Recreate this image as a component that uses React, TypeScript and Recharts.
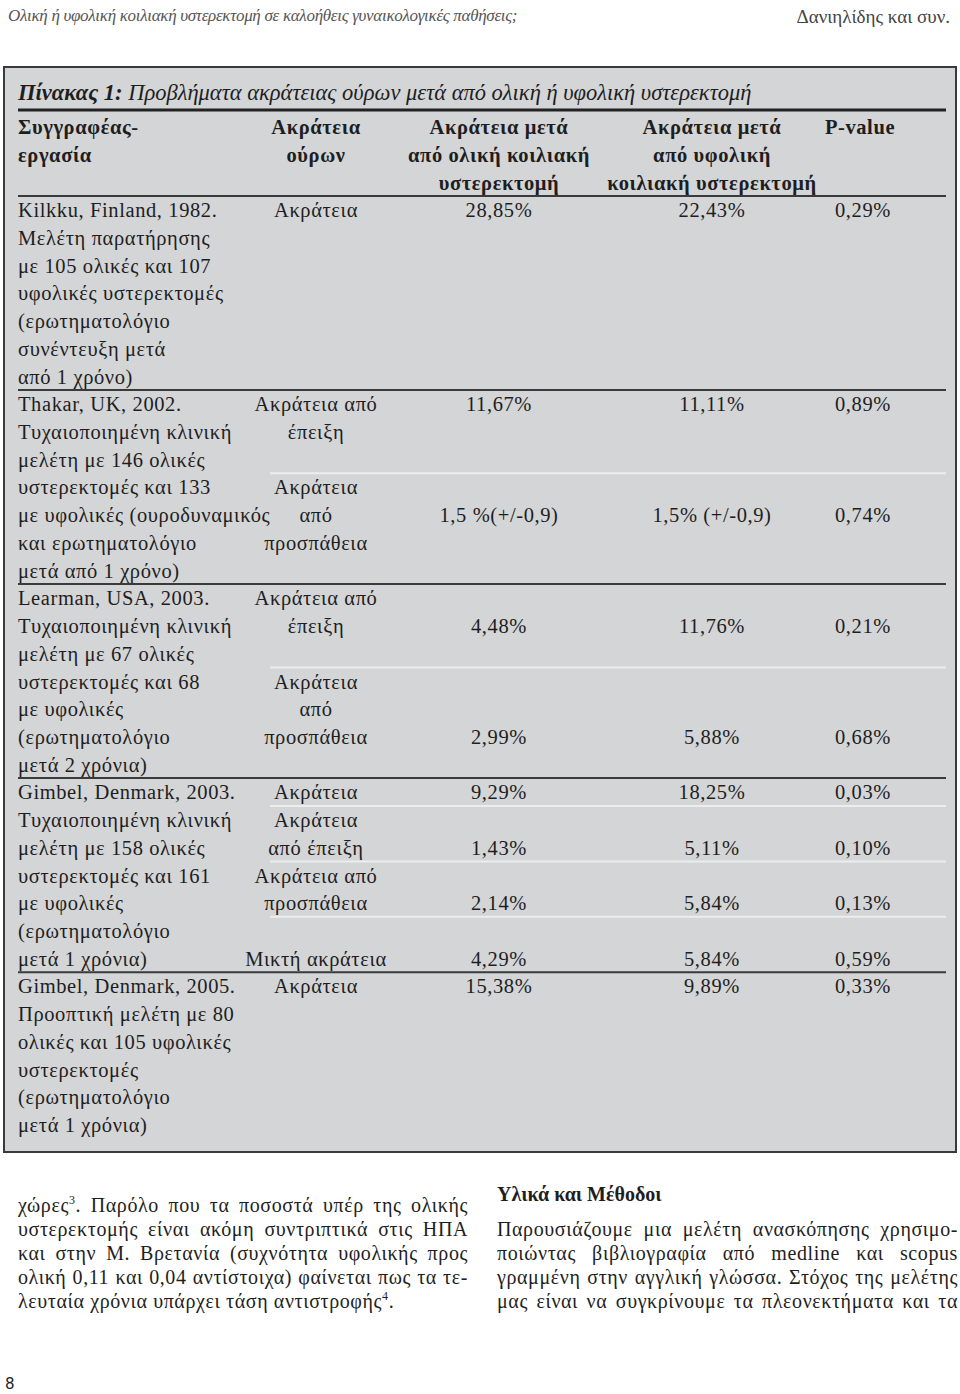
import React from 'react';
import { Surface, Text } from 'recharts';

// running head + caption
const runningHeadLeft = 'Ολική ή υφολική κοιλιακή υστερεκτομή σε καλοήθεις γυναικολογικές παθήσεις;';
const runningHeadRight = 'Δανιηλίδης και συν.';
const tableTitleBold = 'Πίνακας 1:';
const tableTitle = ' Προβλήματα ακράτειας ούρων μετά από ολική ή υφολική υστερεκτομή';

// header cells, one array per column
const headAuthor = ['Συγγραφέας-', 'εργασία'];
const headType = ['Ακράτεια', 'ούρων'];
const headTotal = ['Ακράτεια μετά', 'από ολική κοιλιακή', 'υστερεκτομή'];
const headSubtotal = ['Ακράτεια μετά', 'από υφολική', 'κοιλιακή υστερεκτομή'];
const headP = ['P-value'];

// first column, line by line, per study
const studyLabels: string[][] = [
  ['Kilkku, Finland, 1982.', 'Μελέτη παρατήρησης', 'με 105 ολικές και 107', 'υφολικές υστερεκτομές', '(ερωτηματολόγιο', 'συνέντευξη μετά', 'από 1 χρόνο)'],
  ['Thakar, UK, 2002.', 'Τυχαιοποιημένη κλινική', 'μελέτη με 146 ολικές', 'υστερεκτομές και 133', 'με υφολικές (ουροδυναμικός', 'και ερωτηματολόγιο', 'μετά από 1 χρόνο)'],
  ['Learman, USA, 2003.', 'Τυχαιοποιημένη κλινική', 'μελέτη με 67 ολικές', 'υστερεκτομές και 68', 'με υφολικές', '(ερωτηματολόγιο', 'μετά 2 χρόνια)'],
  ['Gimbel, Denmark, 2003.', 'Τυχαιοποιημένη κλινική', 'μελέτη με 158 ολικές', 'υστερεκτομές και 161', 'με υφολικές', '(ερωτηματολόγιο', 'μετά 1 χρόνια)'],
  ['Gimbel, Denmark, 2005.', 'Προοπτική μελέτη με 80', 'ολικές  και 105 υφολικές', 'υστερεκτομές', '(ερωτηματολόγιο', 'μετά 1 χρόνια)'],
];

// incontinence type text: [line, text]
const incontinenceTypes: [number, string][][] = [
  [[0, 'Ακράτεια']],
  [[0, 'Ακράτεια από'], [1, 'έπειξη'], [3, 'Ακράτεια'], [4, 'από'], [5, 'προσπάθεια']],
  [[0, 'Ακράτεια από'], [1, 'έπειξη'], [3, 'Ακράτεια'], [4, 'από'], [5, 'προσπάθεια']],
  [[0, 'Ακράτεια'], [1, 'Ακράτεια'], [2, 'από έπειξη'], [3, 'Ακράτεια από'], [4, 'προσπάθεια'], [6, 'Μικτή ακράτεια']],
  [[0, 'Ακράτεια']],
];

// results: [line, total, subtotal, p-value]
const results: [number, string, string, string][][] = [
  [[0, '28,85%', '22,43%', '0,29%']],
  [[0, '11,67%', '11,11%', '0,89%'], [4, '1,5 %(+/-0,9)', '1,5% (+/-0,9)', '0,74%']],
  [[1, '4,48%', '11,76%', '0,21%'], [5, '2,99%', '5,88%', '0,68%']],
  [[0, '9,29%', '18,25%', '0,03%'], [2, '1,43%', '5,11%', '0,10%'], [4, '2,14%', '5,84%', '0,13%'], [6, '4,29%', '5,84%', '0,59%']],
  [[0, '15,38%', '9,89%', '0,33%']],
];

// thin rules inside a study, drawn after these lines
const subRules: number[][] = [[], [2], [2], [0, 2, 4], []];

// body text under the table
const leftColumnLines = [
  'χώρες<sup>3</sup>. Παρόλο που τα ποσοστά υπέρ της ολικής',
  'υστερεκτομής είναι ακόμη συντριπτικά στις ΗΠΑ',
  'και στην Μ. Βρετανία (συχνότητα υφολικής προς',
  'ολική 0,11 και 0,04 αντίστοιχα) φαίνεται πως τα τε-',
  'λευταία χρόνια υπάρχει τάση αντιστροφής<sup>4</sup>.',
];
const rightHeading = 'Υλικά και Μέθοδοι';
const rightColumnLines = [
  'Παρουσιάζουμε μια μελέτη ανασκόπησης χρησιμο-',
  'ποιώντας βιβλιογραφία από medline και scopus',
  'γραμμένη στην αγγλική γλώσσα. Στόχος της μελέτης',
  'μας είναι να συγκρίνουμε τα πλεονεκτήματα και τα',
];
const pageNumber = '8';

const SERIF = '"Liberation Serif", "DejaVu Serif", serif';
const INK = '#1e1e1e';
const LINE = 27.72;
const FIRST = 210;
const COLS = [18, 316, 499, 712, 863];

const lineY = (study: number, line: number) => FIRST + (study * 7 + line) * LINE;

function Cell({ x, y, text, anchor = 'middle', bold = false, size = 20.5 }: any) {
  return (
    <Text
      x={x}
      y={y}
      textAnchor={anchor}
      verticalAnchor="middle"
      style={{ fontFamily: SERIF, fontSize: size, fontWeight: bold ? 700 : 400, fill: INK, letterSpacing: 0.6 }}
    >
      {text}
    </Text>
  );
}

function Table() {
  const headCols = [headAuthor, headType, headTotal, headSubtotal, headP];
  return (
    <Surface width={960} height={1160} style={{ position: 'absolute', left: 0, top: 0 }}>
      <rect x={4} y={67} width={952} height={1085} fill="#d4d5d7" stroke="#3a3a3a" strokeWidth={2} />
      <text x={18} y={100} style={{ fontFamily: SERIF, fontSize: 22.5, fontStyle: 'italic', fill: INK }}>
        <tspan fontWeight={700}>{tableTitleBold}</tspan>
        <tspan>{tableTitle}</tspan>
      </text>
      <line x1={18} x2={946} y1={110} y2={110} stroke="#222" strokeWidth={3} />

      {headCols.map((col, c) =>
        col.map((t, i) => (
          <Cell
            key={`h${c}-${i}`}
            x={c === 4 ? 860 : COLS[c]}
            y={127 + i * 28}
            text={t}
            anchor={c === 0 ? 'start' : 'middle'}
            bold
          />
        )),
      )}
      <line x1={18} x2={946} y1={196} y2={196} stroke="#3a3a3a" strokeWidth={2} />

      {studyLabels.map((lines, s) => (
        <g key={`s${s}`}>
          {s > 0 && (
            <line x1={18} x2={946} y1={lineY(s, 0) - 14} y2={lineY(s, 0) - 14} stroke="#3a3a3a" strokeWidth={2} />
          )}
          {subRules[s].map((after) => (
            <line
              key={`r${after}`}
              x1={270}
              x2={946}
              y1={lineY(s, after) + LINE / 2}
              y2={lineY(s, after) + LINE / 2}
              stroke="#eceded"
              strokeWidth={2}
            />
          ))}
          {lines.map((t, i) => (
            <Cell key={`l${i}`} x={COLS[0]} y={lineY(s, i)} text={t} anchor="start" />
          ))}
          {incontinenceTypes[s].map(([ln, t]) => (
            <Cell key={`t${ln}`} x={COLS[1]} y={lineY(s, ln)} text={t} />
          ))}
          {results[s].map(([ln, a, b, p]) => (
            <g key={`v${ln}`}>
              <Cell x={COLS[2]} y={lineY(s, ln)} text={a} />
              <Cell x={COLS[3]} y={lineY(s, ln)} text={b} />
              <Cell x={COLS[4]} y={lineY(s, ln)} text={p} />
            </g>
          ))}
        </g>
      ))}
    </Surface>
  );
}

function JustifiedLines({ lines, left, top, width, lastLeft }: { lines: string[]; left: number; top: number; width: number; lastLeft: boolean }) {
  return (
    <div style={{ position: 'absolute', left, top, width, fontFamily: SERIF, fontSize: 20, lineHeight: '24px', letterSpacing: 0.6, color: INK }}>
      {lines.map((l, i) => (
        <div
          key={i}
          style={{ textAlign: 'justify', textAlignLast: lastLeft && i === lines.length - 1 ? 'left' : 'justify', whiteSpace: 'nowrap' }}
          dangerouslySetInnerHTML={{ __html: l.replace(/<sup>/g, '<sup style="font-size:12px;line-height:0">') }}
        />
      ))}
    </div>
  );
}

export default function App() {
  return (
    <div style={{ position: 'absolute', left: 0, top: 0, width: 960, height: 1394, background: '#fff', overflow: 'hidden' }}>
      <div style={{ position: 'absolute', left: 8, top: 6, fontFamily: SERIF, fontStyle: 'italic', fontSize: 17, color: '#555', letterSpacing: -0.3 }}>
        {runningHeadLeft}
      </div>
      <div style={{ position: 'absolute', right: 10, top: 6, fontFamily: SERIF, fontSize: 19, color: '#444' }}>
        {runningHeadRight}
      </div>

      <Table />

      <JustifiedLines lines={leftColumnLines} left={18} top={1193} width={450} lastLeft />
      <div style={{ position: 'absolute', left: 497, top: 1183, fontFamily: SERIF, fontWeight: 700, fontSize: 20, color: INK }}>
        {rightHeading}
      </div>
      <JustifiedLines lines={rightColumnLines} left={497} top={1217} width={461} lastLeft={false} />

      <div style={{ position: 'absolute', left: 5, top: 1375, fontFamily: '"DejaVu Sans", sans-serif', fontSize: 15, lineHeight: '18px', color: INK }}>
        {pageNumber}
      </div>
    </div>
  );
}
